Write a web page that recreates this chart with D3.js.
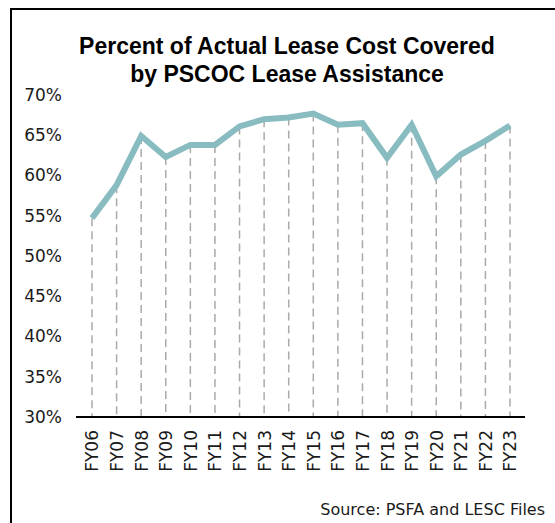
<!DOCTYPE html>
<html><head><meta charset="utf-8">
<script src="https://cdn.jsdelivr.net/npm/d3@7"></script>
<style>body{margin:0;background:#fff}svg{display:block}</style>
</head><body><div id="c"></div>
<script>
const categories = ["FY06","FY07","FY08","FY09","FY10","FY11","FY12","FY13","FY14","FY15","FY16","FY17","FY18","FY19","FY20","FY21","FY22","FY23"];
const values = [54.7,58.8,64.9,62.3,63.8,63.8,66.1,67.0,67.2,67.7,66.3,66.5,62.2,66.3,59.9,62.6,64.3,66.2];
const yTicks = [30,35,40,45,50,55,60,65,70];
const titleLines = ["Percent of Actual Lease Cost Covered","by PSCOC Lease Assistance"];
const sourceText = "Source: PSFA and LESC Files";

const W=555,H=523;
const bodyFont="'DejaVu Sans', Verdana, sans-serif";
const titleFont="'Liberation Sans', Arial, sans-serif";
const svg=d3.select("#c").append("svg").attr("width",W).attr("height",H);
// frame
svg.append("path").attr("d","M11,"+H+"V9H"+W).attr("fill","none").attr("stroke","#000").attr("stroke-width",2);

const x=d3.scalePoint().domain(categories).range([92,510]);
const y=d3.scaleLinear().domain([30,70]).range([417,95]);

// title
svg.append("g").selectAll("text").data(titleLines).join("text")
 .attr("x",287).attr("y",(d,i)=>54+i*28).attr("text-anchor","middle")
 .style("font-family",titleFont).style("font-size","23px").style("font-weight","bold").attr("fill","#000").text(d=>d);

// y axis labels
const ya=svg.append("g").attr("transform","translate(62,0)")
 .call(d3.axisLeft(y).tickValues(yTicks).tickFormat(d=>d+"%").tickSize(0).tickPadding(0));
ya.select(".domain").remove();
ya.selectAll("text").style("font-size","17px").attr("fill","#1a1a1a").style("font-family",bodyFont);

// drop lines
svg.append("g").selectAll("line").data(categories).join("line")
 .attr("x1",d=>x(d)).attr("x2",d=>x(d))
 .attr("y1",(d,i)=>y(values[i])).attr("y2",y(30))
 .attr("stroke","#aaa").attr("stroke-width",1.5).attr("stroke-dasharray","8,5");

// x axis
const xa=svg.append("g").attr("transform","translate(0,"+y(30)+")")
 .call(d3.axisBottom(x).tickSize(0).tickPadding(0));
xa.select(".domain").remove();
svg.append("line").attr("x1",76).attr("x2",525).attr("y1",y(30)).attr("y2",y(30)).attr("stroke","#000").attr("stroke-width",2);
xa.selectAll("text").style("font-size","17px").attr("fill","#1a1a1a").style("font-family",bodyFont)
 .attr("transform","rotate(-90)").attr("text-anchor","end").attr("dy","0.35em").attr("x",-13).attr("y",0);

// line
svg.append("path").datum(values)
 .attr("d",d3.line().x((d,i)=>x(categories[i])).y(d=>y(d)))
 .attr("fill","none").attr("stroke","#88bcc0").attr("stroke-width",6).attr("stroke-linejoin","miter").attr("stroke-linecap","butt");

svg.append("text").attr("x",545).attr("y",515).attr("text-anchor","end").style("font-size","16px").attr("fill","#1a1a1a").style("font-family",bodyFont).text(sourceText);
</script></body></html>
